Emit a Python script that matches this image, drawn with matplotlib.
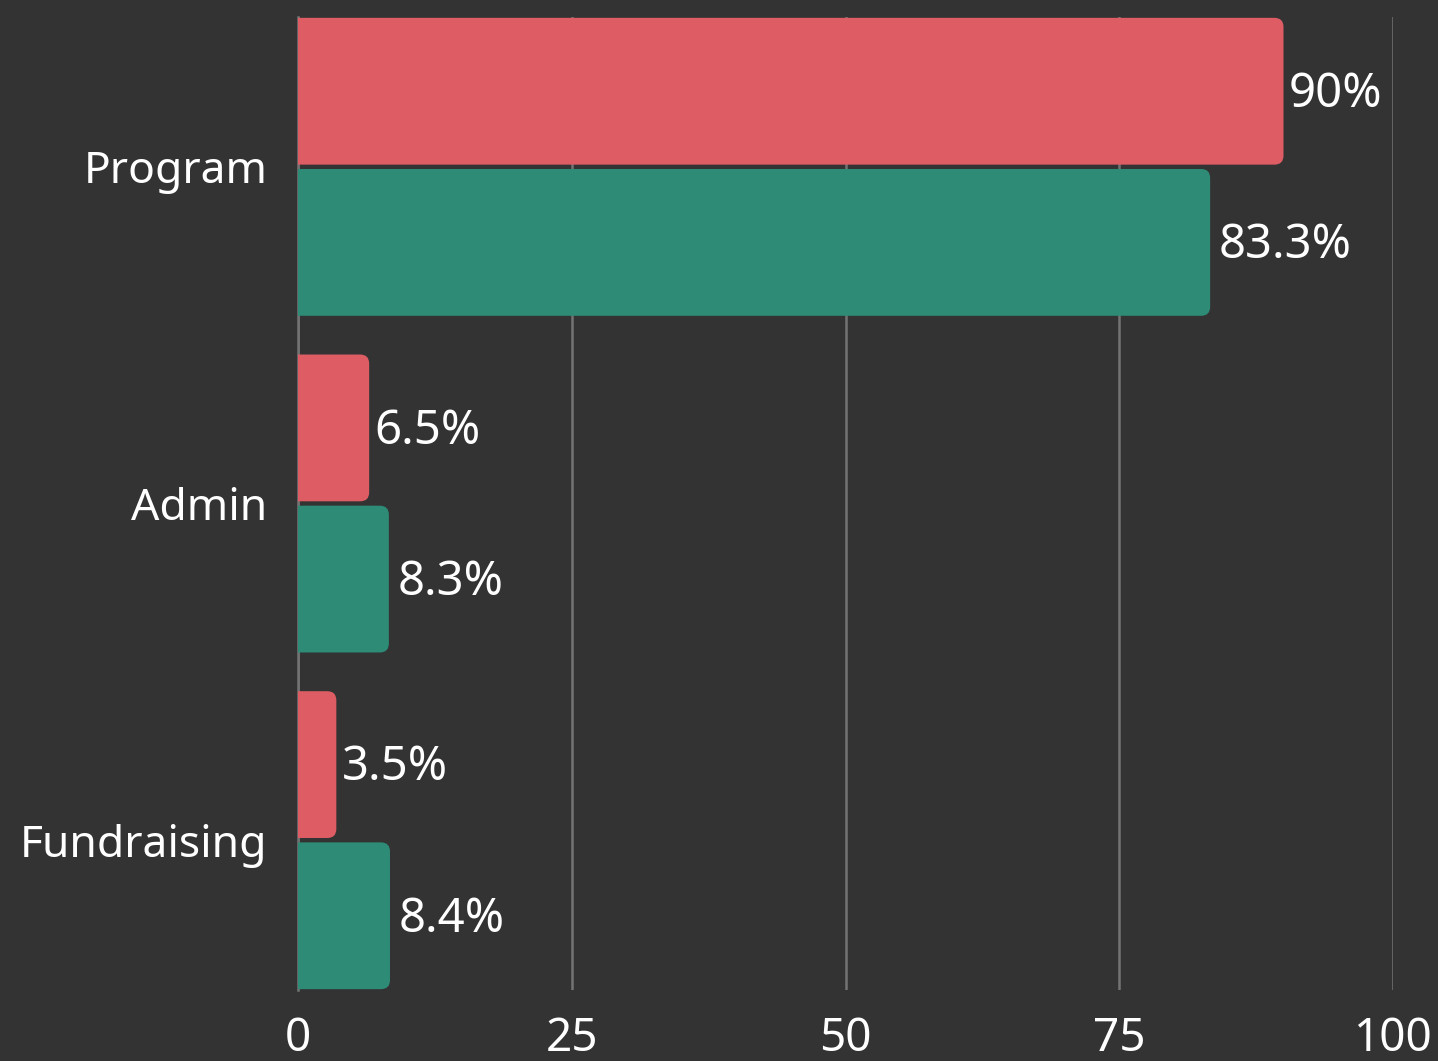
import numpy as np
import matplotlib.pyplot as plt
from matplotlib.patches import FancyBboxPatch

# Données
categories = ['Program', 'Admin', 'Fundraising']
values_red = [90, 6.5, 3.5]
values_teal = [83.3, 8.3, 8.4]
labels_red = ['90%', '6.5%', '3.5%']
labels_teal = ['83.3%', '8.3%', '8.4%']
xticks = [0, 25, 50, 75, 100]

BG = '#333333'
RED = '#DE5D65'
TEAL = '#2D8B76'
GRID = '#737373'

plt.rcParams['font.family'] = ['Noto Sans', 'DejaVu Sans']

W, H = 1438, 1061
fig = plt.figure(figsize=(W / 100, H / 100), dpi=100, facecolor=BG)
left, right, top, bottom = 298 / W, 1393 / W, 1 - 17 / H, 1 - 990 / H
ax = fig.add_axes([left, bottom, right - left, top - bottom], facecolor=BG)

ax.set_xlim(0, 100)
ax.set_ylim(2.445, -0.445)

y = np.arange(len(categories))
h = 0.436
off = 0.2245

# rayon des coins, en pixels -> unités de données
px_x = (right - left) * W / 100
px_y = (top - bottom) * H / 2.89
r_px = 9
rx = r_px / px_x
aspect = (r_px / px_y) / rx


def rounded_bar(x0, yc, width, color):
    p = FancyBboxPatch((x0 - 2, yc - h / 2), width + 2, h,
                       boxstyle=f'round,pad=0,rounding_size={rx}',
                       mutation_aspect=aspect, linewidth=0,
                       facecolor=color, zorder=3)
    ax.add_patch(p)


for i in range(len(categories)):
    rounded_bar(0, y[i] - off, values_red[i], RED)
    rounded_bar(0, y[i] + off, values_teal[i], TEAL)
    ax.text(values_red[i] + 0.5, y[i] - off + 0.01, labels_red[i], color='white',
            fontsize=34, va='center', ha='left', zorder=4)
    ax.text(values_teal[i] + 0.8, y[i] + off + 0.01, labels_teal[i], color='white',
            fontsize=34, va='center', ha='left', zorder=4)

ax.set_yticks(y)
ax.set_yticklabels(categories, color='white', fontsize=32)
ax.set_xticks(xticks)
ax.set_xticklabels([str(t) for t in xticks], color='white', fontsize=33)
ax.tick_params(axis='both', length=0)
ax.tick_params(axis='y', pad=22)
ax.tick_params(axis='x', pad=19)

ax.grid(axis='x', color=GRID, linewidth=1.8, zorder=0)
ax.set_axisbelow(True)
for s in ['top', 'right', 'bottom']:
    ax.spines[s].set_visible(False)
ax.spines['left'].set_color(GRID)
ax.spines['left'].set_linewidth(1.8)

fig.savefig('out.png', dpi=100, facecolor=BG)
